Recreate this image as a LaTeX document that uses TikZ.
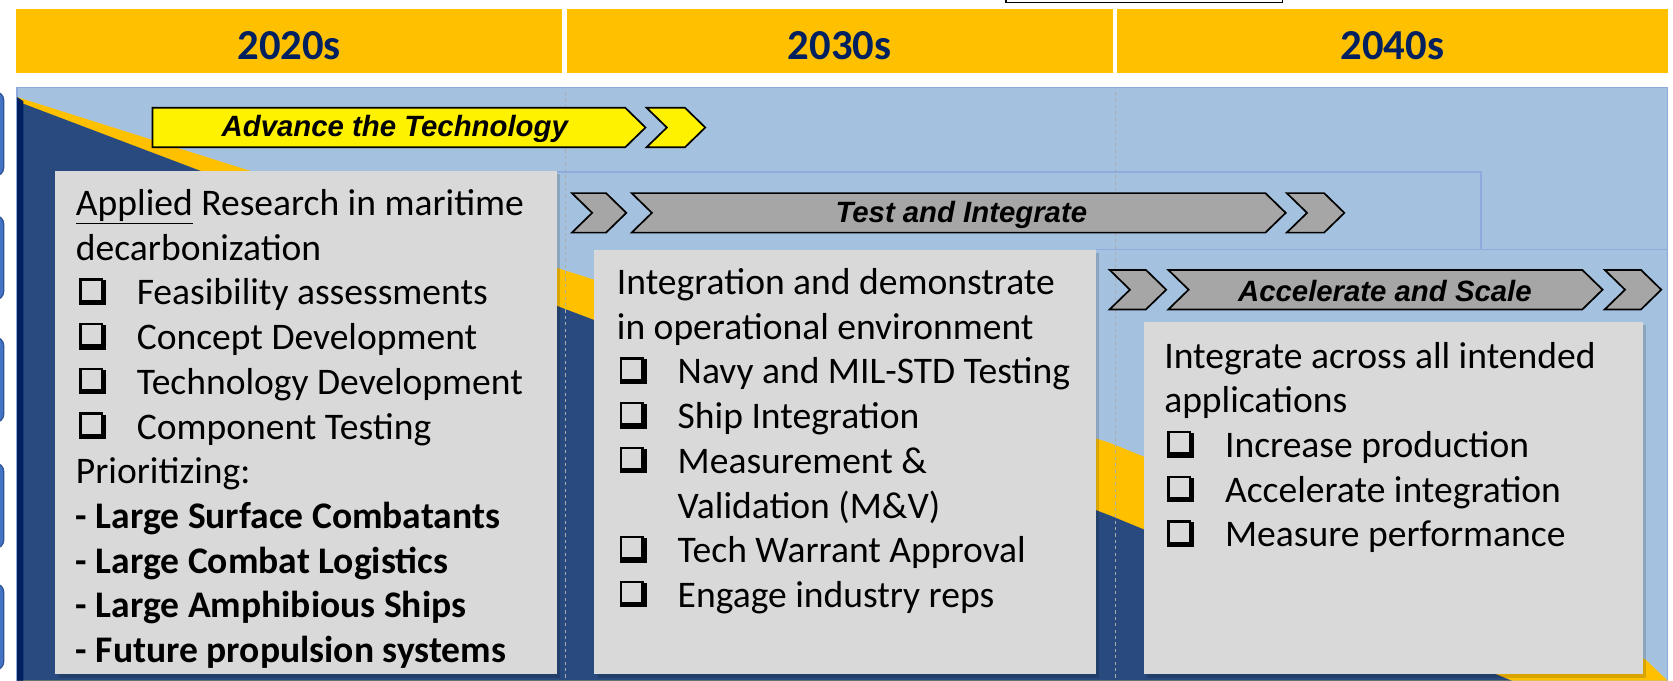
\documentclass[tikz,border=0pt]{standalone}
\usepackage{fontspec}
\setmainfont{Carlito}
\newfontfamily\arialfont{Liberation Sans}
\definecolor{hdryellow}{HTML}{FFC000}
\definecolor{hdrtext}{HTML}{002060}
\definecolor{panelblue}{RGB}{164,194,224}
\definecolor{panelline}{HTML}{8FAADC}
\definecolor{navyfill}{RGB}{40,74,126}
\definecolor{navyedge}{HTML}{002060}
\definecolor{boxgray}{HTML}{D9D9D9}
\definecolor{chevgray}{HTML}{A6A6A6}
\definecolor{sidefill}{HTML}{4472C4}
\definecolor{sideline}{HTML}{2F5597}
\newcommand\chk{\makebox[57pt][l]{\hspace*{3pt}%
  \rlap{\rule{2.2pt}{25pt}}%
  \rlap{\rule[22.8pt]{22pt}{2.2pt}}%
  \rlap{\rule{25pt}{5pt}}%
  \rlap{\hspace*{20pt}\rule{5pt}{23pt}}}}
\begin{document}
\begin{tikzpicture}[x=1pt,y=-1pt,
  hdrcell/.style={fill=hdryellow,draw=none},
  hdrlabel/.style={font=\fontsize{40}{40}\selectfont\bfseries,text=hdrtext,inner sep=0pt},
  sidebox/.style={fill=sidefill,draw=sideline,line width=1.2pt,rounded corners=8pt},
  divider/.style={draw=gray!65,dashed,line width=0.8pt},
  rowline/.style={draw=panelline,line width=1.5pt},
  chevgrey/.style={fill=chevgray,draw=black,line width=1.6pt,line join=miter},
  chevyellow/.style={fill=yellow,draw=black,line width=1.6pt,line join=miter},
  chevlabel/.style={font=\arialfont\fontsize{27.5}{27.5}\selectfont\bfseries\itshape,inner sep=0pt},
  greybox/.style={fill=boxgray,draw=none},
  boxshadow/.style={fill=black,opacity=0.15,draw=none},
  txt/.style={anchor=base west,inner sep=0pt,font=\fontsize{35.2}{42}\selectfont}]
\useasboundingbox (0,0) rectangle (1568,638);
\fill[white] (0,0) rectangle (1568,638);
% header
\path[hdrcell] (15,8) rectangle (527,68);
\path[hdrcell] (531,8) rectangle (1043,68);
\path[hdrcell] (1047,8) rectangle (1563,68);
\node[hdrlabel] (h1) at (271,43) {2020s};
\node[hdrlabel] (h2) at (787,43) {2030s};
\node[hdrlabel] (h3) at (1305,43) {2040s};
\draw[black,line width=1.5pt,fill=white] (943,-12) rectangle (1202,2.5);
% side boxes cut at the left edge
\foreach \ya/\yb in {86/165,202/281,316/396,434/514,547/628}
  \path[sidebox] (-40,\ya) rectangle (3.5,\yb);
% panel
\path[fill=panelblue,draw=panelline,line width=1.5pt] (16,82) rectangle (1563,642);
% diagonal bands
\path[fill=hdryellow] (16,91) -- (1040,415) -- (1542,618) -- (1563,638) -- (16,638) -- cycle;
\path[fill=navyfill] (16,95) -- (1040,483) -- (1417,638) -- (16,638) -- cycle;
\path[fill=navyedge] (16,91) -- (22,95) -- (22,638) -- (16,638) -- cycle;
% dashed decade dividers
\draw[divider] (530,86) -- (530,638);
\draw[divider] (1045,86) -- (1045,638);
% row outlines
\draw[rowline] (522,161) -- (1388,161) -- (1388,234);
\draw[rowline] (1027,234) -- (1562,234);
% Advance the Technology
\draw[chevyellow] (143,101) -- (586,101) -- (605,119.5) -- (586,138) -- (143,138) -- cycle;
\draw[chevyellow] (606,101) -- (642,101) -- (661,119.5) -- (642,138) -- (606,138) -- (625,119.5) -- cycle;
\node[chevlabel] (advance) at (370,121) {Advance the Technology};
% Test and Integrate
\draw[chevgrey] (536,181) -- (568,181) -- (587,199.5) -- (568,218) -- (536,218) -- (555,199.5) -- cycle;
\draw[chevgrey] (592,181) -- (1186,181) -- (1205,199.5) -- (1186,218) -- (592,218) -- (611,199.5) -- cycle;
\draw[chevgrey] (1206,181) -- (1241,181) -- (1260,199.5) -- (1241,218) -- (1206,218) -- (1225,199.5) -- cycle;
\node[chevlabel] (testint) at (901,201) {Test and Integrate};
% Accelerate and Scale
\draw[chevgrey] (1040,253) -- (1074,253) -- (1093,271.5) -- (1074,290) -- (1040,290) -- (1059,271.5) -- cycle;
\draw[chevgrey] (1095,253) -- (1483,253) -- (1502,271.5) -- (1483,290) -- (1095,290) -- (1114,271.5) -- cycle;
\draw[chevgrey] (1504,253) -- (1538,253) -- (1557,271.5) -- (1538,290) -- (1504,290) -- (1523,271.5) -- cycle;
\node[chevlabel] (accscale) at (1298,273) {Accelerate and Scale};
% grey boxes
\path[boxshadow] (55,163) rectangle (525,635);
\path[greybox] (52,160) rectangle (522,632);
\path[boxshadow] (560,237) rectangle (1030,635);
\path[greybox] (557,234) rectangle (1027,632);
\path[boxshadow] (1075,305) rectangle (1543,635);
\path[greybox] (1072,302) rectangle (1540,632);
% box 1 text
\foreach \t [count=\i from 0] in {
  {\underline{Applied} Research in maritime},
  {decarbonization},
  {\chk Feasibility assessments},
  {\chk Concept Development},
  {\chk Technology Development},
  {\chk Component Testing},
  {Prioritizing:},
  {\textbf{- Large Surface Combatants}},
  {\textbf{- Large Combat Logistics}},
  {\textbf{- Large Amphibious Ships}},
  {\textbf{- Future propulsion systems}}}
  \node[txt] (a\i) at (71,{202+41.9*\i}) {\t};
% box 2 text
\foreach \t [count=\i from 0] in {
  {Integration and demonstrate},
  {in operational environment},
  {\chk Navy and MIL-STD Testing},
  {\chk Ship Integration},
  {\chk Measurement \&},
  {\hspace*{57pt}Validation (M\&V)},
  {\chk Tech Warrant Approval},
  {\chk Engage industry reps}}
  \node[txt] (b\i) at (578,{276+41.9*\i}) {\t};
% box 3 text
\foreach \t [count=\i from 0] in {
  {Integrate across all intended},
  {applications},
  {\chk Increase production},
  {\chk Accelerate integration},
  {\chk Measure performance}}
  \node[txt] (c\i) at (1091,{345+41.9*\i}) {\t};
\end{tikzpicture}
\end{document}
